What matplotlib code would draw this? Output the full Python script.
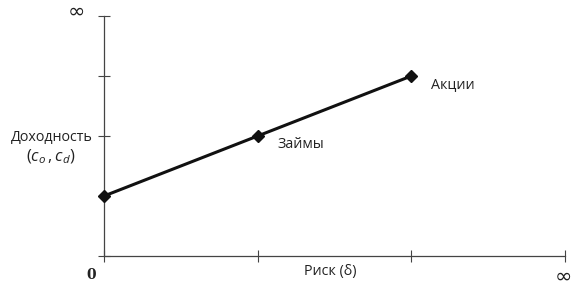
import matplotlib.pyplot as plt

# risk / return points (axis units, 0..3 on x, 0..4 on y)
risk = [0, 1, 2]
ret = [1, 2, 3]
point_labels = ["", "Займы", "Акции"]
x_ticks = [0, 1, 2, 3]
y_ticks = [0, 1, 2, 3, 4]

plt.rcParams['font.family'] = ['Open Sans', 'DejaVu Sans']
plt.rcParams['mathtext.fontset'] = 'custom'
plt.rcParams['mathtext.rm'] = 'Open Sans'
plt.rcParams['mathtext.it'] = 'Open Sans:italic'

fig = plt.figure(figsize=(5.8, 2.96), dpi=100)
ax = fig.add_axes([104 / 580, 1 - 256 / 296, (565 - 104) / 580, 240 / 296])

ax.plot(risk, ret, color='#111111', lw=2.2, marker='D', ms=6.5, zorder=3, clip_on=False)

for x, y, t in zip(risk, ret, point_labels):
    if t:
        ax.annotate(t, (x, y), xytext=(14, -6), textcoords='offset points',
                    fontsize=10.3, va='center', ha='left', color='#222222')

ax.set_xlim(0, 3)
ax.set_ylim(0, 4)
ax.set_xticks(x_ticks)
ax.set_yticks(y_ticks)
ax.set_xticklabels([])
ax.set_yticklabels([])
ax.tick_params(direction='inout', length=8, width=0.8, color='#444444')

for s in ['top', 'right']:
    ax.spines[s].set_visible(False)
for s in ['left', 'bottom']:
    ax.spines[s].set_color('#444444')
    ax.spines[s].set_linewidth(0.9)

# axis labels
fig.text(52 / 580, 1 - 137 / 296, "Доходность", ha='center', va='center',
         fontsize=10.3, color='#222222')
fig.text(51 / 580, 1 - 157 / 296, r"$(c_o\,, c_d)$", ha='center', va='center',
         fontsize=11.8, color='#222222')
fig.text(330 / 580, 1 - 271 / 296, "Риск (δ)", ha='center', va='center',
         fontsize=10.3, color='#222222')

fig.text(91 / 580, 1 - 275 / 296, "0", ha='center', va='center',
         fontsize=10, fontweight='bold', family='DejaVu Serif', color='#222222')
fig.text(76 / 580, 1 - 12 / 296, "∞", ha='center', va='center',
         fontsize=15, color='#222222', family='DejaVu Sans')
fig.text(563 / 580, 1 - 277 / 296, "∞", ha='center', va='center',
         fontsize=15, color='#222222', family='DejaVu Sans')

fig.savefig("out.png", dpi=100)
